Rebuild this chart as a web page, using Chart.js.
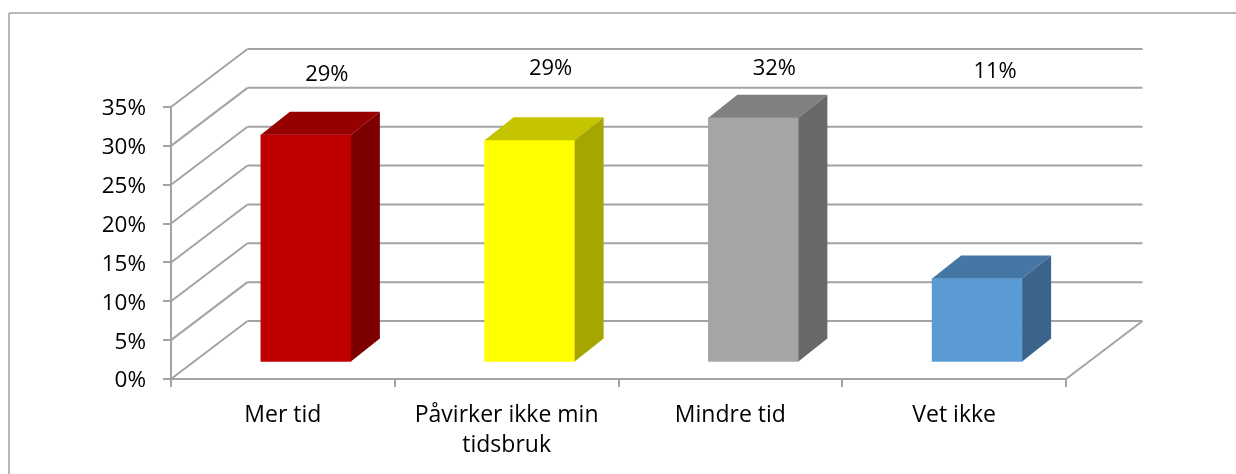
<!DOCTYPE html>
<html>
<head>
<meta charset="utf-8">
<style>
  html, body { margin: 0; padding: 0; background: #fff; overflow: hidden; }
  canvas { display: block; }
</style>
<script src="https://cdn.jsdelivr.net/npm/chart.js@4/dist/chart.umd.min.js"></script>
</head>
<body>
<canvas id="chart" width="1236" height="474"></canvas>
<script>
// data
const categories = ["Mer tid", ["Påvirker ikke min", "tidsbruk"], "Mindre tid", "Vet ikke"];
const values = [29.3, 28.6, 31.5, 10.8];
const valueLabels = ["29%", "29%", "32%", "11%"];
const yMax = 35;
const yStep = 5;

// colours for the three visible faces of each bar
const frontColors = ["#C00000", "#FFFF00", "#A5A5A5", "#5B9BD5"];
const topColors = ["#960000", "#C4C400", "#808080", "#4676A3"];
const sideColors = ["#7C0000", "#A6A600", "#696969", "#3A648A"];

// data labels were hand placed in the original
const labelOffsetX = [21, 21, 21, 18];
const labelCenterY = [75, 69, 69, 72];

const fontName = "'Open Sans', sans-serif";
const gridColor = "#A3A3A3";
const wall = { dx: 76.5, dy: -58 };    // depth of the side wall and floor
const shift = { dx: 23, dy: -16.5 };   // bars stand in the middle of the floor
const depth = { dx: 29, dy: -23 };     // depth of a bar

function line(ctx, x1, y1, x2, y2) {
  ctx.beginPath();
  ctx.moveTo(x1, y1);
  ctx.lineTo(x2, y2);
  ctx.stroke();
}

function face(ctx, color, pts) {
  ctx.fillStyle = color;
  ctx.beginPath();
  pts.forEach((p, i) => (i ? ctx.lineTo(p[0], p[1]) : ctx.moveTo(p[0], p[1])));
  ctx.closePath();
  ctx.fill();
}

// frame, walls, floor, then the extra bar faces
const box3d = {
  id: "box3d",
  beforeDraw(chart) {
    const ctx = chart.ctx;
    ctx.save();
    ctx.strokeStyle = "#A0A0A0";
    ctx.lineWidth = 1.5;
    line(ctx, 9, 13, 1236, 13);
    line(ctx, 9, 13, 9, 474);
    ctx.restore();
  },
  beforeDatasetsDraw(chart) {
    const ctx = chart.ctx;
    const { left, right, top, bottom } = chart.chartArea;
    const y = chart.scales.y;
    ctx.save();
    ctx.strokeStyle = gridColor;
    ctx.lineWidth = 2;
    for (let v = 0; v <= yMax; v += yStep) {
      const py = y.getPixelForValue(v);
      line(ctx, left, py, left + wall.dx, py + wall.dy);
      line(ctx, left + wall.dx, py + wall.dy, right + wall.dx, py + wall.dy);
    }
    line(ctx, left, top, left, bottom);
    line(ctx, right, bottom, right + wall.dx, bottom + wall.dy);
    ctx.restore();
    ctx.save();
    ctx.translate(shift.dx, shift.dy);
  },
  afterDatasetsDraw(chart) {
    const ctx = chart.ctx;
    chart.getDatasetMeta(0).data.forEach((bar, i) => {
      const l = bar.x - bar.width / 2;
      const r = bar.x + bar.width / 2;
      face(ctx, topColors[i], [[l, bar.y], [r, bar.y], [r + depth.dx, bar.y + depth.dy], [l + depth.dx, bar.y + depth.dy]]);
      face(ctx, sideColors[i], [[r, bar.y], [r + depth.dx, bar.y + depth.dy], [r + depth.dx, bar.base + depth.dy], [r, bar.base]]);
    });
    ctx.restore();

    ctx.save();
    ctx.fillStyle = "#000";
    ctx.font = "22px " + fontName;
    ctx.textAlign = "center";
    ctx.textBaseline = "middle";
    chart.getDatasetMeta(0).data.forEach((bar, i) => {
      ctx.fillText(valueLabels[i], bar.x + shift.dx + labelOffsetX[i], labelCenterY[i]);
    });
    ctx.restore();
  }
};

new Chart(document.getElementById("chart").getContext("2d"), {
  type: "bar",
  data: {
    labels: categories,
    datasets: [{
      data: values,
      backgroundColor: frontColors,
      barThickness: 90,
      clip: false
    }]
  },
  options: {
    responsive: false,
    animation: false,
    layout: { padding: { top: 107, right: 170, left: 0, bottom: 0 } },
    plugins: { legend: { display: false }, tooltip: { enabled: false } },
    scales: {
      x: {
        afterFit: (s) => { s.height = 95; },
        grid: { drawOnChartArea: false, drawTicks: true, tickLength: 8, color: gridColor, lineWidth: 2 },
        border: { display: true, color: gridColor, width: 2 },
        ticks: {
          color: "#000",
          maxRotation: 0,
          autoSkip: false,
          padding: 14,
          font: { family: fontName, size: 23, lineHeight: 1.3 }
        }
      },
      y: {
        min: 0,
        max: yMax,
        afterFit: (s) => { s.width = 171; },
        grid: { drawOnChartArea: false, drawTicks: true, tickLength: 8, color: gridColor, lineWidth: 2 },
        border: { display: false },
        ticks: {
          stepSize: yStep,
          color: "#000",
          padding: 17,
          labelOffset: 2,
          font: { family: fontName, size: 22.5 },
          callback: (v) => v + "%"
        }
      }
    }
  },
  plugins: [box3d]
});
</script>
</body>
</html>
